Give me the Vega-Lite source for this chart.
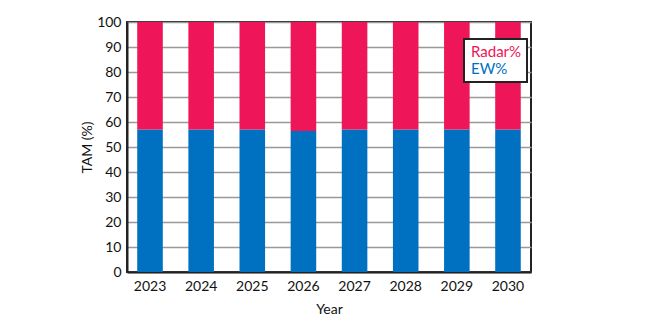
{
  "$schema": "https://vega.github.io/schema/vega-lite/v6.json",
  "width": 404,
  "height": 250,
  "autosize": "none",
  "padding": {"left": 127, "top": 22, "right": 119, "bottom": 51},
  "background": "white",
  "config": {
    "font": "Lato",
    "view": {"stroke": "#222", "strokeWidth": 2},
    "axis": {
      "labelFont": "Lato", "titleFont": "Lato", "labelFontSize": 14, "titleFontSize": 14,
      "labelColor": "#111", "titleColor": "#111", "titleFontWeight": "normal",
      "domainColor": "#222", "domainWidth": 2, "ticks": false,
      "gridColor": "#999", "gridWidth": 1.5, "gridOpacity": 1
    }
  },
  "data": {
    "values": [
      {"year": "2023", "series": "EW%", "value": 57},
      {"year": "2023", "series": "Radar%", "value": 43},
      {"year": "2024", "series": "EW%", "value": 57},
      {"year": "2024", "series": "Radar%", "value": 43},
      {"year": "2025", "series": "EW%", "value": 57},
      {"year": "2025", "series": "Radar%", "value": 43},
      {"year": "2026", "series": "EW%", "value": 56.4},
      {"year": "2026", "series": "Radar%", "value": 43.6},
      {"year": "2027", "series": "EW%", "value": 57},
      {"year": "2027", "series": "Radar%", "value": 43},
      {"year": "2028", "series": "EW%", "value": 57},
      {"year": "2028", "series": "Radar%", "value": 43},
      {"year": "2029", "series": "EW%", "value": 57},
      {"year": "2029", "series": "Radar%", "value": 43},
      {"year": "2030", "series": "EW%", "value": 57},
      {"year": "2030", "series": "Radar%", "value": 43}
    ]
  },
  "mark": {"type": "bar"},
  "encoding": {
    "x": {
      "field": "year", "type": "ordinal", "title": "Year",
      "scale": {"paddingInner": 0.5, "paddingOuter": 0.2},
      "axis": {"labelAngle": 0, "labelPadding": 7, "titlePadding": 9, "grid": false}
    },
    "y": {
      "field": "value", "type": "quantitative", "stack": "zero",
      "title": "TAM (%)",
      "scale": {"domain": [0, 100], "nice": false},
      "axis": {"values": [0,10,20,30,40,50,60,70,80,90,100], "labelPadding": 6, "titlePadding": 2, "grid": true}
    },
    "color": {
      "field": "series", "type": "nominal",
      "scale": {"domain": ["Radar%", "EW%"], "range": ["#ee1558", "#0070c0"]},
      "legend": {
        "title": null, "orient": "none", "legendX": 337, "legendY": 17,
        "symbolOpacity": 0, "symbolSize": 0, "symbolStrokeWidth": 0,
        "labelFontSize": 15, "labelFont": "Lato", "labelOffset": -13,
        "fillColor": "white", "strokeColor": "#222",
        "padding": 5, "rowPadding": 1,
        "encode": {
          "legend": {"update": {"strokeWidth": {"value": 2}}},
          "labels": {"update": {"fill": {"signal": "datum.label === 'Radar%' ? '#ee1558' : '#0070c0'"}}}
        }
      }
    },
    "order": {"field": "series", "sort": "ascending"}
  }
}
